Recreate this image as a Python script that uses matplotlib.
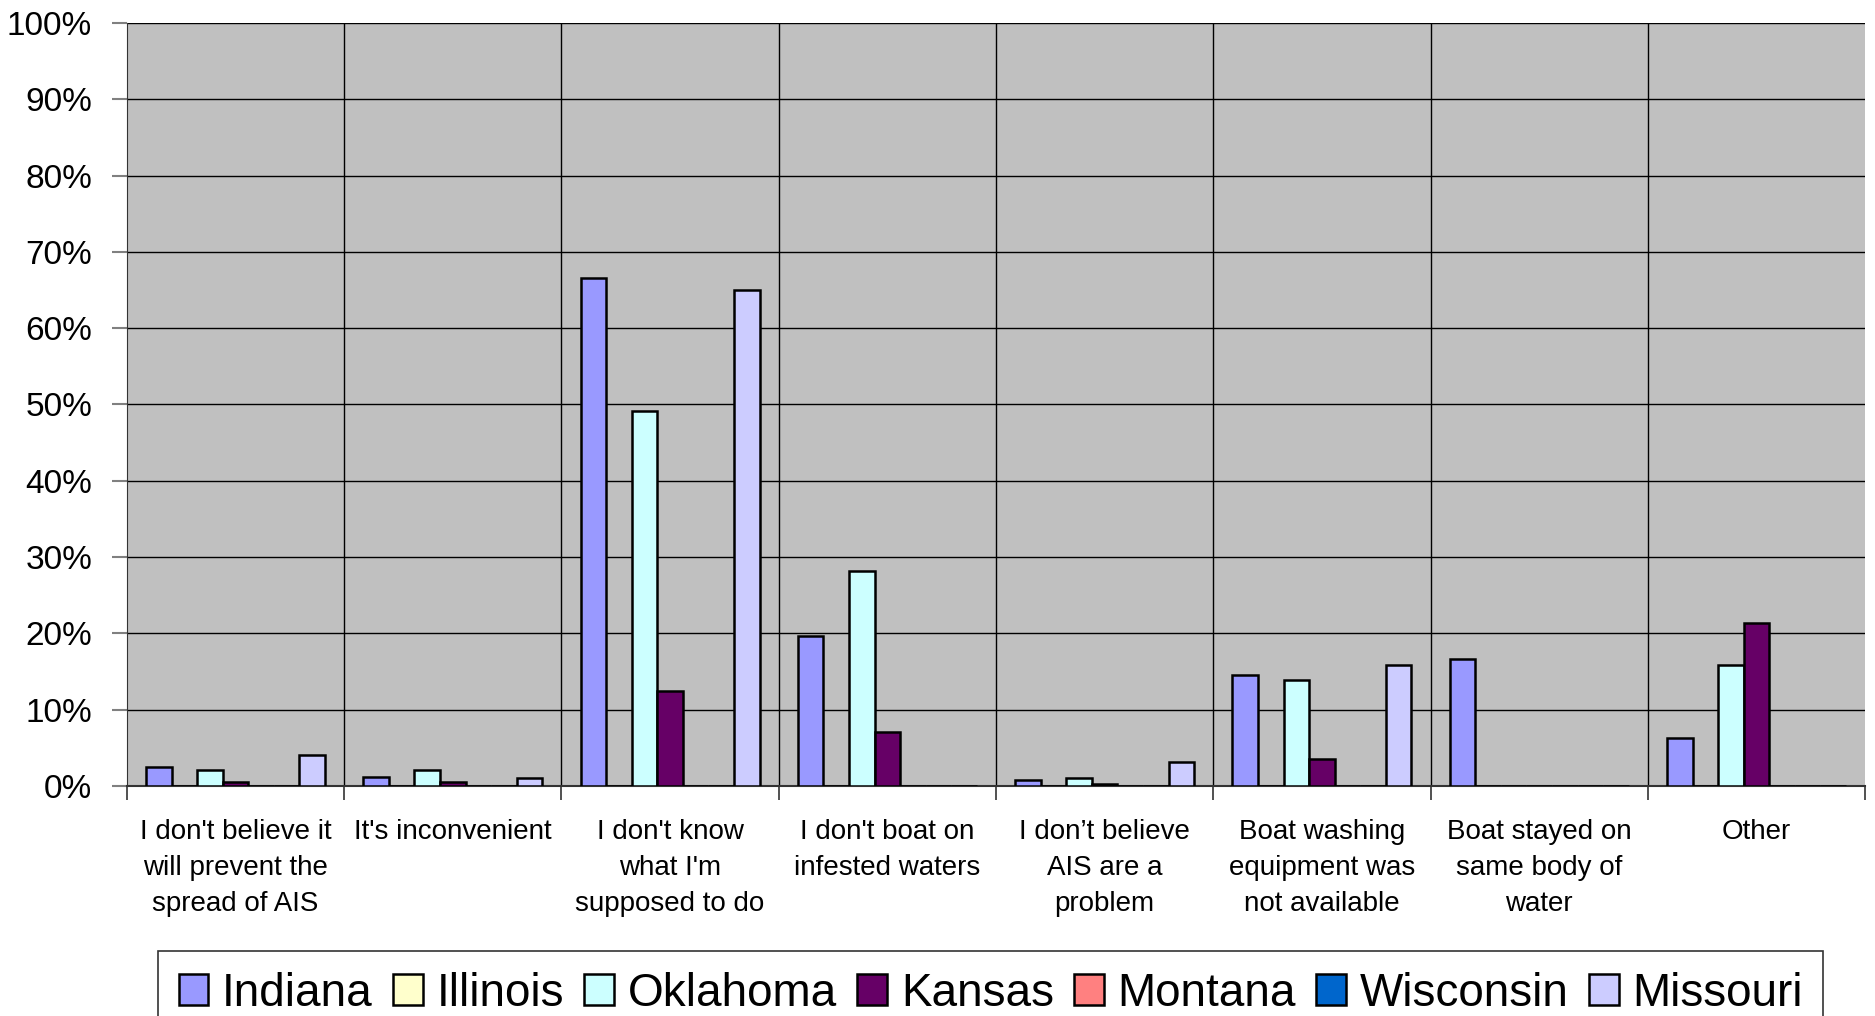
import numpy as np
import matplotlib
matplotlib.use("Agg")
import matplotlib.pyplot as plt
from matplotlib.ticker import FuncFormatter, MultipleLocator

plt.rcParams['font.family'] = ['Liberation Sans', 'DejaVu Sans']

categories = [
    "I don't believe it\nwill prevent the\nspread of AIS",
    "It's inconvenient",
    "I don't know\nwhat I'm\nsupposed to do",
    "I don't boat on\ninfested waters",
    "I don\u2019t believe\nAIS are a\nproblem",
    "Boat washing\nequipment was\nnot available",
    "Boat stayed on\nsame body of\nwater",
    "Other",
]

states = ["Indiana", "Illinois", "Oklahoma", "Kansas", "Montana", "Wisconsin", "Missouri"]
colors = ["#9999FF", "#FFFFCC", "#CCFFFF", "#660066", "#FF8080", "#0066CC", "#CCCCFF"]

# percent values (0 = no bar)
indiana   = [2.5, 1.2, 66.6, 19.6, 0.8, 14.6, 16.7, 6.3]
illinois  = [0, 0, 0, 0, 0, 0, 0, 0]
oklahoma  = [2.1, 2.1, 49.2, 28.2, 1.05, 13.9, 0, 15.9]
kansas    = [0.5, 0.5, 12.4, 7.1, 0.26, 3.5, 0, 21.3]
montana   = [0, 0, 0, 0, 0, 0, 0, 0]
wisconsin = [0, 0, 0, 0, 0, 0, 0, 0]
missouri  = [4.1, 1.0, 65.0, 0, 3.1, 15.9, 0, 0]

series = [indiana, illinois, oklahoma, kansas, montana, wisconsin, missouri]

fig = plt.figure(figsize=(18.75, 10.16), dpi=100)
ax = fig.add_axes([0.0677, 0.2264, 0.9270, 0.7510])
ax.set_facecolor("#C0C0C0")

n = len(categories)
w = 1 / 8.5
x = np.arange(n)
handles = []
for i, vals in enumerate(series):
    pos = x + 0.75 * w + i * w
    vals = np.array(vals, dtype=float)
    b = ax.bar(pos, vals, width=w, align='edge', color=colors[i],
               edgecolor='black', linewidth=1.8, zorder=3, label=states[i])
    handles.append(b)

ax.set_xlim(0, n)
ax.set_ylim(0, 100)

# horizontal gridlines + category separators
ax.yaxis.set_major_locator(MultipleLocator(10))
ax.yaxis.set_major_formatter(FuncFormatter(lambda v, p: f"{int(v)}%"))
ax.grid(axis='y', color='black', linewidth=1.0, zorder=1)
for b in range(1, n):
    ax.axvline(b, color='black', linewidth=1.0, zorder=1)

ax.set_xticks(x + 0.5)
ax.set_xticklabels(categories, fontsize=20, linespacing=1.5, va='top')
ax.set_xticks(np.arange(n + 1), minor=True)
ax.tick_params(axis='x', which='major', length=0, pad=24)
ax.tick_params(axis='x', which='minor', length=10, width=1.2, color='#333333')
ax.tick_params(axis='y', length=11, width=1.5, color='#808080', labelsize=24, pad=14)

for s in ['top', 'right']:
    ax.spines[s].set_visible(False)
ax.spines['left'].set_color('#333333')
ax.spines['bottom'].set_color('#333333')
ax.spines['bottom'].set_linewidth(1.5)

leg = fig.legend(handles=handles, labels=states, loc='upper left',
                 bbox_to_anchor=(158 / 1875, 1 - 951 / 1016), ncol=7,
                 fontsize=33, frameon=True, fancybox=False, edgecolor='black',
                 handlelength=0.65, handleheight=0.65, handletextpad=0.3,
                 columnspacing=0.44, borderpad=0.45, borderaxespad=0)
leg.get_frame().set_linewidth(1.2)

fig.savefig("out.png", dpi=100)
